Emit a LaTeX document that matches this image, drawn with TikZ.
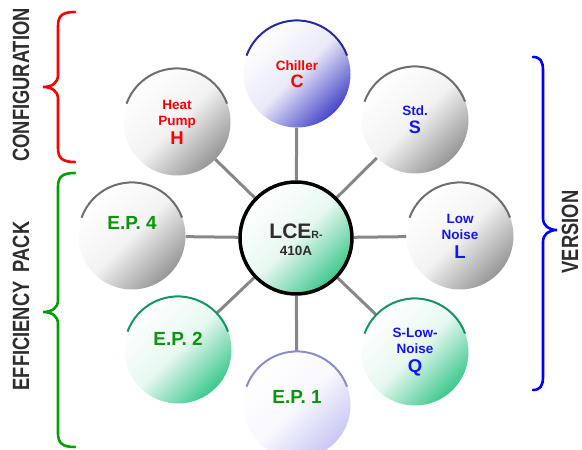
\documentclass[tikz,border=0pt]{standalone}
\usepackage{fontspec}
\setmainfont{Liberation Sans}
\usetikzlibrary{backgrounds}
\definecolor{tred}{RGB}{255,0,0}
\definecolor{tblue}{RGB}{20,20,240}
\definecolor{tgreen}{RGB}{10,150,10}
\definecolor{tdark}{RGB}{45,45,45}
\definecolor{bgray}{RGB}{150,150,150}
\definecolor{agray}{RGB}{110,110,110}
\definecolor{bblue}{RGB}{70,70,200}
\definecolor{ablue}{RGB}{40,40,160}
\definecolor{bgreen}{RGB}{60,200,140}
\definecolor{agreen}{RGB}{20,150,100}
\definecolor{blav}{RGB}{200,200,245}
\definecolor{alav}{RGB}{140,140,200}
\definecolor{conn}{RGB}{135,135,135}
\definecolor{brred}{RGB}{255,0,0}
\definecolor{brgreen}{RGB}{0,160,0}
\definecolor{brblue}{RGB}{0,0,255}
\begin{document}
\begin{tikzpicture}[x=1pt,y=1pt,
  bub/.style={circle, minimum size=107pt, inner sep=0pt, align=center,
    font=\bfseries\fontsize{13.5}{16}\selectfont,
    top color=white, bottom color=#1, middle color=#1!12!white, shading angle=45},
  hub/.style={bub=#1, minimum size=112pt, draw=black, line width=3.5pt},
  toparc/.style={line width=2pt, #1},
  link/.style={conn, line width=3pt},
  brace/.style={line width=2.6pt, line cap=round},
  side/.style={font=\bfseries\fontsize{23.5}{23.5}\selectfont, text=tdark, rotate=90, inner sep=0pt},
  eplbl/.style={font=\bfseries\fontsize{19}{19}\selectfont, text=tgreen, inner sep=0pt}
]
\useasboundingbox (0,0) rectangle (582,450);

% bubbles
\node[hub=bgreen] (hubn) at (296,212) {};
\node[bub=bblue, text=tred] (chil) at (297,376) {Chiller\\[1pt]{\fontsize{18}{18}\selectfont C}};
\node[bub=bgray, text=tred] (hp) at (177,328) {Heat\\Pump\\[3pt]{\fontsize{18.5}{18}\selectfont H}};
\node[bub=bgray, text=tblue] (std) at (415,330) {Std.\\[2pt]{\fontsize{18}{18}\selectfont S}};
\node[bub=bgray, text=tblue] (ln) at (460,214) {Low\\Noise\\[3pt]{\fontsize{18.5}{18}\selectfont L}};
\node[bub=bgray] (ep4) at (132,214) {};
\node[bub=bgreen] (ep2) at (178,100) {};
\node[bub=bgreen, text=tblue] (sln) at (415,98) {S-Low-\\Noise\\[3pt]{\fontsize{18.5}{18}\selectfont Q}};
\node[bub=blav] (ep1) at (297,45) {};

% labels
\node[eplbl] (ep4t) at ([yshift=13pt]ep4.center) {E.P. 4};
\node[eplbl] (ep2t) at ([yshift=11pt]ep2.center) {E.P. 2};
\node[eplbl] (ep1t) at ([yshift=8pt]ep1.center) {E.P. 1};
\node[text=tdark, align=center, inner sep=0pt] (hubt) at (296,210)
  {\bfseries\fontsize{21}{21}\selectfont LCE{\fontsize{10.5}{10.5}\selectfont R-}\\[5pt]
   \bfseries\fontsize{13.5}{14}\selectfont 410A};

% top arcs
\draw[toparc=ablue] (chil.160) arc[start angle=160, end angle=20, radius=53.5pt];
\draw[toparc=agray] (hp.160) arc[start angle=160, end angle=20, radius=53.5pt];
\draw[toparc=agray] (std.160) arc[start angle=160, end angle=20, radius=53.5pt];
\draw[toparc=agray] (ln.160) arc[start angle=160, end angle=20, radius=53.5pt];
\draw[toparc=agray] (ep4.160) arc[start angle=160, end angle=20, radius=53.5pt];
\draw[toparc=agreen] (ep2.160) arc[start angle=160, end angle=20, radius=53.5pt];
\draw[toparc=agreen] (sln.160) arc[start angle=160, end angle=20, radius=53.5pt];
\draw[toparc=alav] (ep1.160) arc[start angle=160, end angle=20, radius=53.5pt];

% connectors
\begin{scope}[on background layer]
\foreach \n in {chil,hp,std,ln,ep4,ep2,sln,ep1}
  \draw[link] (hubn) -- (\n);
\end{scope}

% braces
\draw[brace, brred] (75,438) .. controls (62,438) and (58,434) .. (58,424) -- (58,375)
  .. controls (58,367) and (52,363) .. (43,363) .. controls (52,363) and (58,359) .. (58,351)
  -- (58,302) .. controls (58,292) and (62,288) .. (75,288);
\draw[brace, brgreen] (75,277) .. controls (62,277) and (58,273) .. (58,263) -- (58,150)
  .. controls (58,142) and (52,138) .. (43,138) .. controls (52,138) and (58,134) .. (58,126)
  -- (58,17) .. controls (58,7) and (62,3) .. (75,3);
\draw[brace, brblue] (533,393) .. controls (540,393) and (543,389) .. (543,380) -- (543,232)
  .. controls (543,224) and (549,220) .. (557,220) .. controls (549,220) and (543,216) .. (543,208)
  -- (543,73) .. controls (543,64) and (540,60) .. (533,60);

% side labels
\node[side] (cfg) at (21,365) {\scalebox{0.78}[1]{CONFIGURATION}};
\node[side] (eff) at (21,144) {\scalebox{0.78}[1]{EFFICIENCY\hspace{0.5em}PACK}};
\node[side] (ver) at (570,218) {\scalebox{0.78}[1]{VERSION}};
\end{tikzpicture}
\end{document}
